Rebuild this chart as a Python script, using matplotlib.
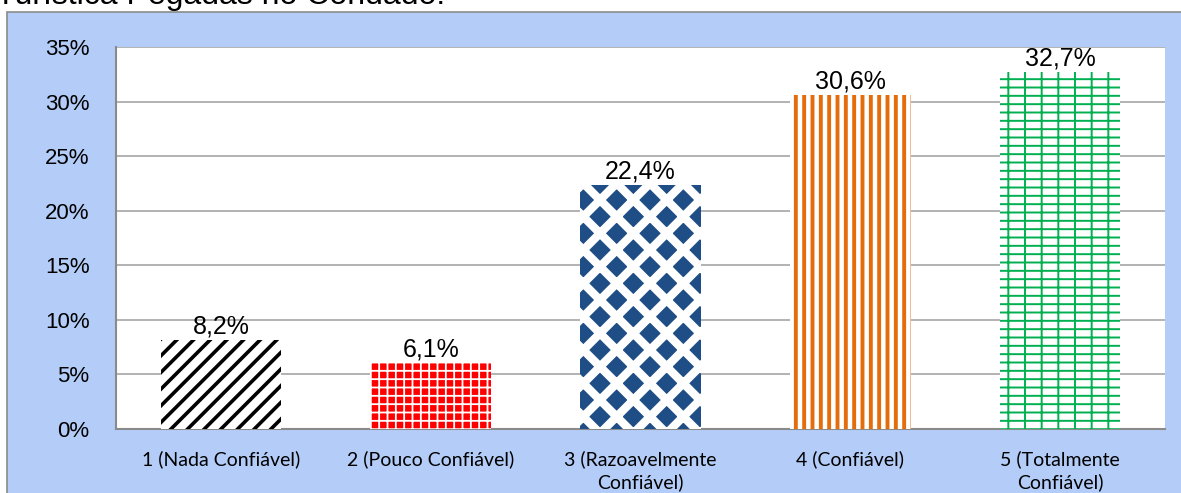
import matplotlib
matplotlib.use("Agg")
import matplotlib.pyplot as plt
from matplotlib.patches import Rectangle
from matplotlib.ticker import MultipleLocator, FuncFormatter

# ── Data ──────────────────────────────────────────────────────────────────────
categories = ["1 (Nada Confiável)", "2 (Pouco Confiável)",
              "3 (Razoavelmente\nConfiável)", "4 (Confiável)",
              "5 (Totalmente\nConfiável)"]
percent = [8.2, 6.1, 22.4, 30.6, 32.7]
title = "Turística Pegadas no Condado."

# fill style per bar: face, hatch colour, hatch, hatch linewidth
styles = [
    ("white",   "black",   "//", 2.6),
    ("#FF0000", "white",   "++", 1.3),
    ("#1F4E86", "white",   "x",  6.0),
    ("white",   "#E46C0A", "||", 2.8),
    ("white",   "#00B050", "+-", 1.4),
]

plt.rcParams['font.family'] = ['Liberation Sans', 'DejaVu Sans']

W, H = 1181, 493
fig = plt.figure(figsize=(W / 100, H / 100), dpi=100)
fig.patch.set_facecolor("white")

# light blue chart frame (behind the axes)
fig.patches.append(Rectangle((7 / W, -0.01), 1.01 - 7 / W, (H - 12) / H + 0.01,
                             transform=fig.transFigure, facecolor="#B4CDF8",
                             edgecolor="#8A8A8A", lw=1.2, zorder=-5))

# title, cut off at the top as in the source image
fig.text(-0.003, 1 - 4 / H, title, fontsize=23, va="baseline", ha="left")

ax = fig.add_axes([116 / W, 64 / H, 1049 / W, 382 / H])
ax.set_zorder(2)
ax.set_facecolor("white")

x = range(len(categories))
bars = ax.bar(x, percent, width=0.575, zorder=3)
for b, (fc, hc, hatch, hlw) in zip(bars, styles):
    b.set_facecolor(fc)
    b.set_edgecolor(hc)
    b.set_linewidth(0)
    b.set_hatch(hatch)
    if hasattr(b, "set_hatch_linewidth"):
        b.set_hatch_linewidth(hlw)

for i, v in enumerate(percent):
    ax.annotate(f"{v:.1f}%".replace(".", ","), (i, v), xytext=(0, 1),
                textcoords="offset points", ha="center", va="bottom",
                fontsize=18, zorder=4)

ax.set_xlim(-0.5, len(categories) - 0.5)
ax.set_ylim(0, 35)
ax.yaxis.set_major_locator(MultipleLocator(5))
ax.yaxis.set_major_formatter(FuncFormatter(lambda v, p: f"{v:.0f}%"))
ax.grid(axis="y", color="#A6A6A6", lw=1.2, zorder=1)
ax.set_axisbelow(True)
ax.set_xticks(list(x))
ax.set_xticklabels(categories, fontsize=14, family=["Lato", "DejaVu Sans"],
                   linespacing=1.4)
ax.tick_params(axis="x", length=0, pad=15)
ax.tick_params(axis="y", length=0, pad=19, labelsize=16)
for lab in ax.get_yticklabels():
    lab.set_ha("right")

for s in ["top", "right"]:
    ax.spines[s].set_visible(False)
for s in ["left", "bottom"]:
    ax.spines[s].set_color("#8A8A8A")
    ax.spines[s].set_linewidth(1.5)

fig.savefig("out.png", dpi=100)
